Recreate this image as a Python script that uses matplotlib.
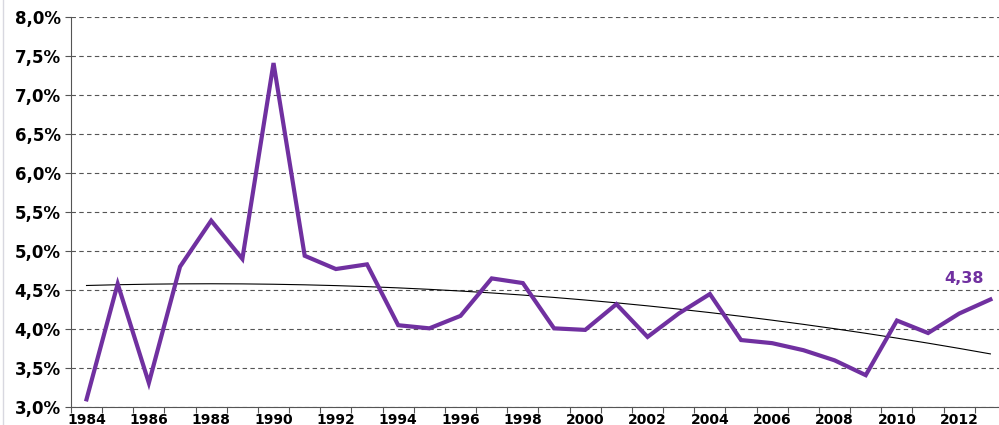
import numpy as np
import matplotlib
matplotlib.use("Agg")
import matplotlib.pyplot as plt
from matplotlib.ticker import FuncFormatter

# yearly rates (%)
years = list(range(1984, 2014))
rates = [3.10, 4.58, 3.31, 4.80, 5.39, 4.90, 7.41, 4.94, 4.77, 4.83,
         4.05, 4.01, 4.17, 4.65, 4.59, 4.01, 3.99, 4.32, 3.90, 4.20,
         4.45, 3.86, 3.82, 3.73, 3.60, 3.41, 4.11, 3.95, 4.20, 4.38]
last_label = "4,38"

purple = "#7030A0"

fig = plt.figure(figsize=(9.99, 4.25), dpi=100)
ax = fig.add_axes([0.071, 0.042, 0.936, 0.918])

x = np.arange(len(years))
ax.plot(x, rates, color=purple, lw=3, solid_joinstyle="miter", zorder=3)

# polynomial trend (order 2), like the spreadsheet trendline
coef = np.polyfit(x, rates, 2)
ax.plot(x, np.polyval(coef, x), color="black", lw=0.8, zorder=2)

ax.text(x[-1] - 0.85, rates[-1] + 0.17, last_label, color=purple,
        fontsize=11.5, fontweight="bold", ha="center", va="bottom")

ax.set_xlim(-0.5, len(years) - 0.5)
ax.set_ylim(3.0, 8.0)
ax.set_yticks(np.arange(3.0, 8.01, 0.5))
ax.yaxis.set_major_formatter(FuncFormatter(lambda v, p: f"{v:.1f}%".replace(".", ",")))

ax.set_xticks(np.arange(-0.5, len(years), 1))
ax.set_xticklabels([])
ax.set_xticks(x[::2], minor=True)
ax.set_xticklabels([str(y) for y in years[::2]], minor=True)
ax.tick_params(axis="x", which="minor", length=0, pad=4)
ax.tick_params(axis="x", which="major", length=4, color="#555555")
ax.tick_params(axis="y", length=4, color="#555555")
for lab in ax.get_xticklabels(minor=True):
    lab.set_fontweight("bold")
    lab.set_fontsize(10)
for lab in ax.get_yticklabels():
    lab.set_fontweight("bold")
    lab.set_fontsize(12)

ax.grid(axis="y", color="#555555", ls=(0, (4, 3)), lw=0.8)
ax.set_axisbelow(True)
for s in ["top", "right"]:
    ax.spines[s].set_visible(False)
for s in ["left", "bottom"]:
    ax.spines[s].set_color("#555555")

# faint frame edge on the left, as in the source image
fig.add_artist(plt.Line2D([0.003, 0.003], [0.0, 1.0], color="#d8d8e0", lw=1))

fig.savefig("out.png", dpi=100)
